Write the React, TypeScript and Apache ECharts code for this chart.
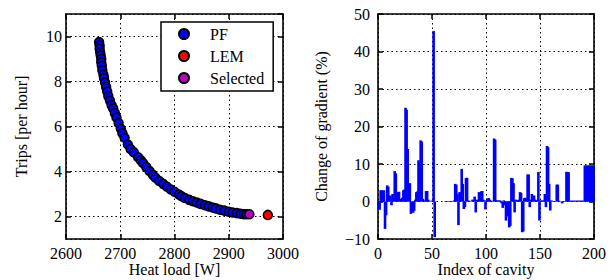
import React, { useEffect, useRef } from "react";
import * as echarts from "echarts";

// Left panel: Pareto front (heat load [W], trips per hour)
const pfHeatLoad = [
  2661, 2662, 2662, 2663, 2664, 2665, 2665, 2666, 2667, 2669, 2670, 2672, 2674, 2676, 2678,
  2681, 2684, 2687, 2690, 2693, 2697, 2701, 2704, 2708, 2714, 2719, 2725, 2733, 2738, 2742,
  2748, 2754, 2760, 2765, 2772, 2779, 2786, 2793, 2800, 2808, 2813, 2819, 2827, 2834, 2841,
  2848, 2856, 2863, 2870, 2876, 2884, 2892, 2900, 2907, 2915, 2922, 2928, 2933,
];
const pfTrips = [
  9.75, 9.6, 9.45, 9.3, 9.15, 9.0, 8.85, 8.7, 8.5, 8.3, 8.15, 7.95, 7.75, 7.55, 7.35,
  7.15, 6.95, 6.8, 6.6, 6.4, 6.15, 5.9, 5.7, 5.5, 5.2, 5.0, 4.85, 4.63, 4.5, 4.38,
  4.2, 4.02, 3.85, 3.72, 3.58, 3.45, 3.32, 3.2, 3.1, 2.98, 2.9, 2.82, 2.74, 2.68, 2.62,
  2.56, 2.5, 2.45, 2.4, 2.36, 2.3, 2.26, 2.21, 2.18, 2.15, 2.12, 2.1, 2.1,
];
const lemPoint = [2972, 2.07];
const selectedPoint = [2938, 2.1];

// Right panel: change of gradient (%) per cavity index 0..199
const cavityChange = [
  -2, -2.2, 3, 3, 2.5, 3, -7.3, -3.7, 4.3, 4,
  1.5, 1.6, -1, 2, 1, 8.1, 7.5, 1, 2.5, 2.6,
  0.5, 0.7, 1, 3, 3.2, 25, 24.5, 14, 4.7, 4.9,
  -3.3, -2.7, -3, -2.5, 0.5, 2.5, 2.7, 11, 10.5, 16.3,
  16, 0.7, 0.2, 0.3, 2.8, 2.8, 0.5, 0.2, 0, 0.1,
  0.3, 45.5, -9.5, 0, 0, 0, 0, 0, 0, 0,
  0, 0, 0.1, 0.1, 0.1, 0.1, 0.1, 0.1, 0.1, 0.1,
  0.3, 4.7, 4.5, 2, -6.3, 2.5, 2.4, 8.7, 4.7, -2,
  -1.5, 6.3, 6.3, 0.3, 0, 0.2, 0, 0.5, 0.3, 1.3,
  -2.9, 0.5, 0.3, 2.5, 1.5, 2.7, 2.8, 0.5, 0.3, -2.1,
  0.3, 0.8, 0.9, 0.5, 0.2, 0, 0.2, 16.8, 16.5, 0.3,
  0.3, 0.2, 0.3, 0.2, -0.5, -1.7, 0.3, -1, -5.1, -3.8,
  -4, -6.9, -6.5, 6.3, 6.2, 4.9, -2.9, 0.5, 0.3, 0.3,
  0.5, 2.5, 2.3, -8.2, -8, 0.9, 1, 0.8, 7.2, 7.2,
  -1.5, 0.5, 2, 1.5, 1.6, 0.5, 0.3, 0.3, 7.9, -5.1,
  0.3, 0.2, 0.3, 0.2, 2, -1.5, 14.8, 14.5, 4.7, -2.4,
  0.3, 0.1, 0.1, 0.1, 0.1, 4.5, 4.5, 0.2, 0.1, 0,
  -0.5, 0.1, 0.1, 0.1, 7.9, 7.9, 7.8, 0.2, 0.2, 0.2,
  0.2, 0.2, 0.2, 0.2, 0.2, 0.2, 0.2, 0.2, 0.2, 0.2,
  0.2, 9.6, 9.6, 9.6, 9.6, 9.6, 9.6, 9.6, 9.6, 9.6,
];

const FONT = "Liberation Serif";
const BLACK = "#000";

const labelStyle = { fontFamily: FONT, fontSize: 16, color: BLACK, lineHeight: 13 };
const gridDash = { color: BLACK, width: 1, type: [1.5, 3] as number[] };
const plain = (v: number) => String(v).replace("-", "\u2212");

function primaryAxis(extra: any) {
  return {
    type: "value",
    axisLine: { show: true, onZero: false, lineStyle: { color: BLACK, width: 1.6 } },
    axisTick: { show: true, inside: true, length: 5, lineStyle: { color: BLACK, width: 1.5 } },
    splitLine: { show: true, lineStyle: gridDash },
    nameTextStyle: { fontFamily: FONT, fontSize: 16, color: BLACK, lineHeight: 14 },
    nameLocation: "middle",
    nameMoveOverlap: false,
    ...extra,
  };
}

function mirrorAxis(extra: any) {
  return {
    type: "value",
    axisLine: { show: true, onZero: false, lineStyle: { color: BLACK, width: 1.6 } },
    axisTick: { show: true, inside: true, length: 5, lineStyle: { color: BLACK, width: 1.5 } },
    axisLabel: { show: false },
    splitLine: { show: false },
    ...extra,
  };
}

export default function App() {
  const ref = useRef<HTMLDivElement>(null);

  useEffect(() => {
    if (!ref.current) return;
    const chart = echarts.init(ref.current, null, { renderer: "svg" });

    const pfData = pfHeatLoad.map((x, i) => [x, pfTrips[i]]);
    const barData = cavityChange.map((v, i) => [i + 0.5, v]);

    const leftX = { min: 2600, max: 3000, interval: 100 };
    const leftY = { min: 1, max: 11, splitNumber: 5 };
    const rightX = { min: 0, max: 200, interval: 50 };
    const rightY = { min: -10, max: 50, interval: 10 };

    chart.setOption({
      animation: false,
      backgroundColor: "#fff",
      grid: [
        { left: 66, top: 14, width: 217, height: 225, containLabel: false, outerBoundsMode: "none" },
        { left: 378, top: 14, width: 216, height: 225, containLabel: false, outerBoundsMode: "none" },
      ],
      legend: {
        data: ["PF", "LEM", "Selected"],
        orient: "vertical",
        left: 161,
        top: 22,
        icon: "circle",
        itemWidth: 10,
        itemHeight: 10,
        itemGap: 6,
        padding: [4, 9, 5, 17],
        borderColor: BLACK,
        borderWidth: 1.5,
        borderRadius: 0,
        backgroundColor: "#fff",
        selectedMode: false,
        textStyle: {
          fontFamily: FONT,
          fontSize: 16,
          color: BLACK,
          lineHeight: 16,
          padding: [0, 0, 0, 16],
        },
      },
      xAxis: [
        primaryAxis({
          gridIndex: 0,
          position: "bottom",
          ...leftX,
          name: "Heat load [W]",
          nameGap: 23.5,
          axisLabel: { ...labelStyle, margin: 8, formatter: plain },
        }),
        mirrorAxis({ gridIndex: 0, position: "top", ...leftX }),
        primaryAxis({
          gridIndex: 1,
          position: "bottom",
          ...rightX,
          name: "Index of cavity",
          nameGap: 23.5,
          axisLabel: { ...labelStyle, margin: 8, formatter: plain },
        }),
        mirrorAxis({ gridIndex: 1, position: "top", ...rightX }),
      ],
      yAxis: [
        primaryAxis({
          gridIndex: 0,
          position: "left",
          ...leftY,
          name: "Trips [per hour]",
          nameGap: 38,
          axisLabel: {
            ...labelStyle,
            margin: 4,
            showMinLabel: false,
            showMaxLabel: false,
            formatter: plain,
          },
        }),
        mirrorAxis({ gridIndex: 0, position: "right", ...leftY }),
        primaryAxis({
          gridIndex: 1,
          position: "left",
          ...rightY,
          name: "Change of gradient (%)",
          nameGap: 50,
          axisLabel: { ...labelStyle, margin: 8, formatter: plain },
        }),
        mirrorAxis({ gridIndex: 1, position: "right", ...rightY }),
      ],
      series: [
        {
          name: "PF",
          type: "scatter",
          xAxisIndex: 0,
          yAxisIndex: 0,
          data: pfData,
          symbol: "circle",
          symbolSize: 9,
          itemStyle: { color: "#0000ff", borderColor: BLACK, borderWidth: 1.5, opacity: 1 },
        },
        {
          name: "LEM",
          type: "scatter",
          xAxisIndex: 0,
          yAxisIndex: 0,
          data: [lemPoint],
          symbol: "circle",
          symbolSize: 9,
          itemStyle: { color: "#ff0000", borderColor: BLACK, borderWidth: 1.5, opacity: 1 },
        },
        {
          name: "Selected",
          type: "scatter",
          xAxisIndex: 0,
          yAxisIndex: 0,
          data: [selectedPoint],
          symbol: "circle",
          symbolSize: 9,
          itemStyle: { color: "#bf00bf", borderColor: BLACK, borderWidth: 1.5, opacity: 1 },
        },
        {
          name: "Change",
          type: "bar",
          xAxisIndex: 2,
          yAxisIndex: 2,
          data: barData,
          barWidth: 2.6,
          itemStyle: { color: "#0000ff" },
        },
      ],
    });

    return () => chart.dispose();
  }, []);

  return (
    <div
      ref={ref}
      style={{ position: "absolute", left: 0, top: 0, width: 616, height: 280 }}
    />
  );
}
